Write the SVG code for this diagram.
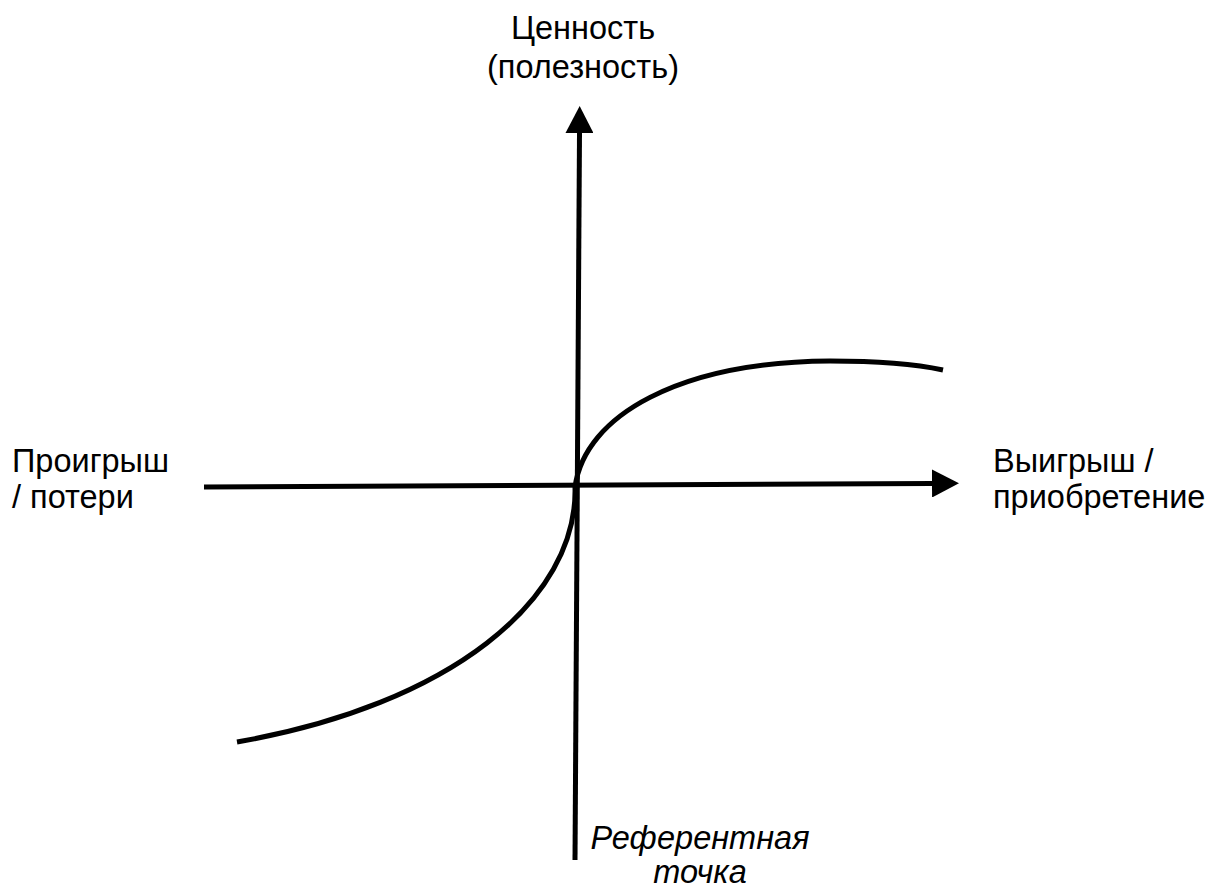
<svg xmlns="http://www.w3.org/2000/svg" width="1211" height="890" viewBox="0 0 1211 890">
<style>
.t{font-family:"Liberation Sans",Arial,sans-serif;font-size:32.5px;fill:#000}
.i{font-style:italic}
.ax{stroke:#000;stroke-width:5;fill:none}
.cv{stroke:#000;stroke-width:5;fill:none}
</style>
<defs>
<marker id="ah" markerUnits="userSpaceOnUse" markerWidth="28" markerHeight="28" refX="0" refY="14" orient="auto" viewBox="0 0 28 28">
<path d="M0,0 L27,14 L0,28 Z" fill="#000"/>
</marker>
</defs>
<rect width="1211" height="890" fill="#fff"/>
<g id="connectors">
<path id="x-axis" class="ax" d="M204,487 L932,483.5" marker-end="url(#ah)"/>
<path id="y-axis" class="ax" d="M575,860 L579.5,133" marker-end="url(#ah)"/>
</g>
<g id="curve">
<path class="cv" d="M575,487 C585,415 680,362 830,361 C880,361 915,364 943,370"/>
<path class="cv" d="M575,487 C578,600 450,705 237,742"/>
</g>
<g id="label-value"><text class="t" x="583" y="39" text-anchor="middle">Ценность</text><text class="t" x="583" y="78" text-anchor="middle">(полезность)</text></g>
<g id="label-loss"><text class="t" x="12" y="472">Проигрыш</text><text class="t" x="12" y="508">/ потери</text></g>
<g id="label-gain"><text class="t" x="993" y="472">Выигрыш /</text><text class="t" x="993" y="508">приобретение</text></g>
<g id="label-ref"><text class="t i" x="700" y="849" text-anchor="middle">Референтная</text><text class="t i" x="700" y="883" text-anchor="middle">точка</text></g>
</svg>
